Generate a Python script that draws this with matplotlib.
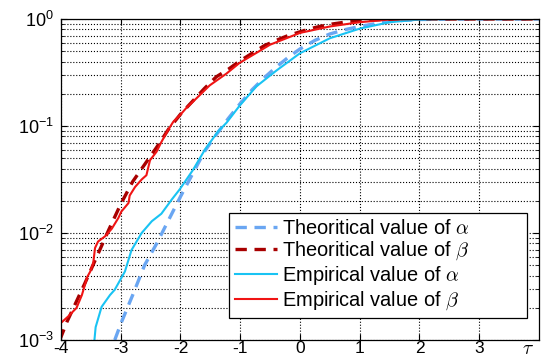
import numpy as np
import matplotlib
matplotlib.use("Agg")
import matplotlib.pyplot as plt
from matplotlib.font_manager import FontProperties
from matplotlib.ticker import LogLocator

# values, as (tau, log10 value)
theo_alpha_tau = [-3.10, -3.0, -2.8, -2.6, -2.4, -2.2, -2.0, -1.8, -1.6, -1.4, -1.2, -1.0,
                  -0.8, -0.6, -0.4, -0.2, 0.0, 0.25, 0.5, 0.75, 1.0, 1.25, 1.5, 1.75, 2.0,
                  2.5, 3.0, 4.0]
theo_alpha_log = [-3.0, -2.85, -2.58, -2.30, -2.10, -1.88, -1.66, -1.45, -1.24, -1.08, -0.93,
                  -0.79, -0.66, -0.55, -0.45, -0.36, -0.28, -0.20, -0.14, -0.10, -0.07,
                  -0.045, -0.025, -0.012, -0.005, -0.001, 0.0, 0.0]

theo_beta_tau = [-4.02, -3.9, -3.8, -3.6, -3.4, -3.2, -3.0, -2.8, -2.6, -2.4, -2.2, -2.0,
                 -1.8, -1.6, -1.4, -1.2, -1.0, -0.8, -0.6, -0.4, -0.2, 0.0, 0.25, 0.5,
                 0.75, 1.0, 1.25, 1.5, 2.0, 4.0]
theo_beta_log = [-3.0, -2.83, -2.71, -2.47, -2.22, -1.97, -1.73, -1.52, -1.36, -1.20, -1.03,
                 -0.89, -0.77, -0.65, -0.54, -0.47, -0.39, -0.32, -0.25, -0.20, -0.155,
                 -0.12, -0.08, -0.05, -0.03, -0.017, -0.008, -0.003, 0.0, 0.0]

emp_alpha_tau = [-3.44, -3.42, -3.32, -3.18, -3.10, -3.01, -2.93, -2.82, -2.65, -2.48, -2.32,
                 -2.15, -2.01, -1.79, -1.59, -1.37, -1.23, -1.01, -0.73, -0.39, 0.0, 0.5,
                 1.0, 1.5, 2.0, 2.5, 4.0]
emp_alpha_log = [-3.0, -2.88, -2.69, -2.58, -2.53, -2.44, -2.36, -2.16, -2.00, -1.89, -1.82,
                 -1.69, -1.59, -1.41, -1.22, -1.05, -0.97, -0.81, -0.63, -0.48, -0.32,
                 -0.18, -0.09, -0.03, -0.005, 0.0, 0.0]

emp_beta_tau = [-4.0, -3.88, -3.74, -3.65, -3.56, -3.51, -3.46, -3.43, -3.38, -3.26, -3.15,
                -3.04, -2.99, -2.87, -2.85, -2.76, -2.65, -2.57, -2.51, -2.40, -2.32, -2.21,
                -2.12, -2.01, -1.90, -1.73, -1.51, -1.23, -1.01, -0.5, 0.0, 0.5, 1.0, 1.5,
                2.0, 4.0]
emp_beta_log = [-2.84, -2.78, -2.70, -2.58, -2.41, -2.36, -2.28, -2.14, -2.08, -2.03, -1.96,
                -1.86, -1.80, -1.72, -1.65, -1.57, -1.50, -1.46, -1.32, -1.24, -1.15, -1.04,
                -0.96, -0.90, -0.83, -0.74, -0.62, -0.51, -0.41, -0.24, -0.13, -0.07, -0.03,
                -0.005, 0.0, 0.0]

x_ticks = [-4, -3, -2, -1, 0, 1, 2, 3]

plt.rcParams['font.family'] = ['Liberation Sans', 'DejaVu Sans']
plt.rcParams['mathtext.fontset'] = 'custom'
plt.rcParams['mathtext.rm'] = 'Liberation Sans'
plt.rcParams['mathtext.it'] = 'Liberation Sans:italic'
plt.rcParams['mathtext.default'] = 'it'

fig = plt.figure(figsize=(5.43, 3.59), dpi=100)
ax = fig.add_axes([0.1123, 0.0529, 0.8803, 0.8942])

def pow10(vals):
    return [10 ** v for v in vals]

dash = (0, (3.4, 2.3))
ax.plot(theo_alpha_tau, pow10(theo_alpha_log), color='#6aa6f2', lw=2.4, ls=dash,
        label=r'Theoritical value of $\alpha$')
ax.plot(theo_beta_tau, pow10(theo_beta_log), color='#a80000', lw=2.4, ls=dash,
        label=r'Theoritical value of $\beta$')
ax.plot(emp_alpha_tau, pow10(emp_alpha_log), color='#19c3f3', lw=1.5,
        label=r'Empirical value of $\alpha$')
ax.plot(emp_beta_tau, pow10(emp_beta_log), color='#f01414', lw=1.5,
        label=r'Empirical value of $\beta$')

ax.set_yscale('log')
ax.set_xlim(-4, 4)
ax.set_ylim(1e-3, 1)
ax.set_xticks(x_ticks)
ax.set_xticklabels([str(t) for t in x_ticks])
ax.yaxis.set_major_locator(LogLocator(base=10, numticks=10))
ax.yaxis.set_minor_locator(LogLocator(base=10, subs=np.arange(2, 10), numticks=20))

ax.grid(True, which='major', ls=':', color='black', lw=0.8)
ax.grid(True, which='minor', axis='y', ls=':', color='black', lw=0.8)
ax.tick_params(which='both', direction='in', top=True, right=True, labelsize=13)
ax.tick_params(which='major', length=4)
ax.tick_params(axis='x', which='major', pad=1, labelsize=12.5)
ax.tick_params(axis='y', which='major', pad=5)
ax.tick_params(which='minor', length=2)
for sp in ax.spines.values():
    sp.set_linewidth(0.9)

ax.text(0.978, -0.03, r'$\tau$', transform=ax.transAxes, ha='center', va='center',
        fontsize=14, math_fontfamily='cm')

leg_font = FontProperties(family='Liberation Sans', size=14.4, math_fontfamily='cm')
leg = ax.legend(loc='lower left', bbox_to_anchor=(0.351, 0.0685, 0.623, 0.29), mode='expand',
                prop=leg_font, frameon=True, fancybox=False, edgecolor='black', framealpha=1,
                handlelength=2.1, handletextpad=0.25, labelspacing=0.1,
                borderpad=0.3, borderaxespad=0)
leg.get_frame().set_linewidth(0.9)

fig.savefig('out.png', dpi=100)
